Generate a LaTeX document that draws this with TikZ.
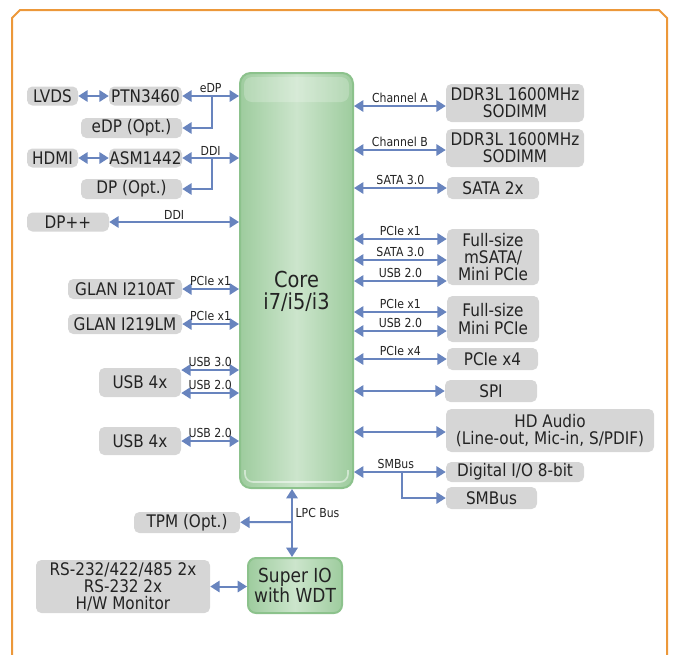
\documentclass[tikz,border=0pt]{standalone}
\usepackage{fontspec}
\setmainfont{DejaVu Sans}[FakeStretch=0.88]
\usetikzlibrary{arrows.meta}
\definecolor{framebar}{RGB}{236,152,58}
\definecolor{boxgrey}{RGB}{214,214,214}
\definecolor{textgrey}{RGB}{35,35,35}
\definecolor{linkblue}{RGB}{104,132,190}
\definecolor{chipgreen}{RGB}{158,204,158}
\definecolor{chiplight}{RGB}{204,229,204}
\definecolor{chipedge}{RGB}{140,194,140}

\tikzset{
  part/.style={draw=none, fill=boxgrey, rounded corners=4pt, inner sep=0pt, align=center,
               text=textgrey, font=\fontsize{13}{13}\selectfont},
  boxsize/.style 2 args={minimum width=#1*0.75pt, minimum height=#2*0.75pt},
  chip/.style={draw=chipedge, line width=1.5pt, left color=chipgreen, right color=chipgreen,
               middle color=chiplight, inner sep=0pt, align=center, text=textgrey},
  link/.style={draw=linkblue, line width=1.5pt,
               {Triangle[length=7pt,width=8.5pt]}-{Triangle[length=7pt,width=8.5pt]}},
  linkto/.style={draw=linkblue, line width=1.5pt, -{Triangle[length=7pt,width=8.5pt]}},
  bus/.style={font=\fontsize{9.3}{10}\selectfont, text=textgrey, inner sep=1pt, above=0.5pt}
}

\begin{document}
\begin{tikzpicture}[x=0.75pt, y=-0.75pt]
            \useasboundingbox (0,0) rectangle (673,654);
            \draw[framebar, line width=1.5pt] (12,670) -- (12,18) -- (20,10) -- (659,10) -- (667,18) -- (667,670);

            \node[chip, rounded corners=8pt, boxsize={113}{415}] (core) at (296.5,280.5) {};
            \fill[white, opacity=.22, rounded corners=6pt] (244,77) rectangle (349,102);
            \draw[white, opacity=.5, line width=1.2pt, rounded corners=6pt] (245,470) -- (245,482) -- (348,482) -- (348,470);
            \node[text=textgrey, align=center, font=\fontsize{16.5}{16.5}\selectfont] (corelabel) at (296.5,291) {Core\\i7/i5/i3};

            \node[part, boxsize={51}{19}] (lvds) at (52.5,96) {LVDS};
            \node[part, boxsize={73}{19}] (ptn) at (145.5,96) {PTN3460};
            \node[part, boxsize={101}{20}] (edpopt) at (131.5,128) {eDP (Opt.)};
            \node[part, boxsize={51}{19}] (hdmi) at (52.5,158) {HDMI};
            \node[part, boxsize={73}{19}] (asm) at (145.5,158) {ASM1442};
            \node[part, boxsize={101}{20}] (dpopt) at (131.5,189) {DP (Opt.)};
            \node[part, boxsize={82}{19}] (dpplus) at (68,222) {DP++};
            \node[part, boxsize={114}{20}] (glana) at (125,289) {GLAN I210AT};
            \node[part, boxsize={114}{20}] (glanb) at (125,324) {GLAN I219LM};
            \node[part, boxsize={82}{29}] (usba) at (140,382.5) {USB 4x};
            \node[part, boxsize={82}{28}] (usbb) at (140,441) {USB 4x};
            \node[part, boxsize={106}{21}] (tpm) at (187,522.5) {TPM (Opt.)};
            \node[part, boxsize={174}{53}, font=\fontsize{13}{12.75}\selectfont] (serial) at (123,586.5) {RS-232/422/485 2x\\RS-232 2x\\H/W Monitor};
            \node[chip, rounded corners=6pt, boxsize={94}{55}, font=\fontsize{14.5}{13.5}\selectfont] (sio) at (295,585.5) {Super IO\\with WDT};

            \node[part, boxsize={138}{38}] (ddra) at (515,103) {DDR3L 1600MHz\\SODIMM};
            \node[part, boxsize={138}{38}] (ddrb) at (515,148) {DDR3L 1600MHz\\SODIMM};
            \node[part, boxsize={92}{22}] (sata) at (493,188) {SATA 2x};
            \node[part, boxsize={92}{56}] (msata) at (493,257) {Full-size\\mSATA/\\Mini PCIe};
            \node[part, boxsize={92}{46}] (minipcie) at (493,319) {Full-size\\Mini PCIe};
            \node[part, boxsize={91}{22}] (pciefour) at (492.5,359) {PCIe x4};
            \node[part, boxsize={92}{22}] (spi) at (491,391) {SPI};
            \node[part, boxsize={208}{43}] (audio) at (550,430.5) {HD Audio\\(Line-out, Mic-in, S/PDIF)};
            \node[part, boxsize={138}{20}] (dio) at (515,472) {Digital I/O 8-bit};
            \node[part, boxsize={91}{22}] (smbus) at (491.5,498) {SMBus};

            \draw[link] (lvds) -- (ptn);
            \draw[link] (ptn) -- (ptn -| core.west) node[bus, midway] {eDP};
            \coordinate (edpsplit) at (212,96);
            \draw[linkto] (edpsplit) |- (edpopt);
            \draw[link] (hdmi) -- (asm);
            \draw[link] (asm) -- (asm -| core.west) node[bus, midway] {DDI};
            \coordinate (ddisplit) at (212,158);
            \draw[linkto] (ddisplit) |- (dpopt);
            \draw[link] (dpplus) -- (dpplus -| core.west) node[bus, midway] {DDI};
            \draw[link] (glana) -- (glana -| core.west) node[bus, midway] {PCIe x1};
            \draw[link] (glanb) -- (glanb -| core.west) node[bus, midway] {PCIe x1};
            \draw[link] (usba.east |- 0,370) -- (core.west |- 0,370) node[bus, midway] {USB 3.0};
            \draw[link] (usba.east |- 0,393) -- (core.west |- 0,393) node[bus, midway] {USB 2.0};
            \draw[link] (usbb) -- (usbb -| core.west) node[bus, midway] {USB 2.0};

            \draw[link] (core.east |- 0,106) -- (ddra.west |- 0,106) node[bus, midway] {Channel A};
            \draw[link] (core.east |- 0,150) -- (ddrb.west |- 0,150) node[bus, midway] {Channel B};
            \draw[link] (core.east |- sata) -- (sata) node[bus, midway] {SATA 3.0};
            \draw[link] (core.east |- 0,239) -- (msata.west |- 0,239) node[bus, midway] {PCIe x1};
            \draw[link] (core.east |- 0,260) -- (msata.west |- 0,260) node[bus, midway] {SATA 3.0};
            \draw[link] (core.east |- 0,281) -- (msata.west |- 0,281) node[bus, midway] {USB 2.0};
            \draw[link] (core.east |- 0,312) -- (minipcie.west |- 0,312) node[bus, midway] {PCIe x1};
            \draw[link] (core.east |- 0,331) -- (minipcie.west |- 0,331) node[bus, midway] {USB 2.0};
            \draw[link] (core.east |- pciefour) -- (pciefour) node[bus, midway] {PCIe x4};
            \draw[link] (core.east |- spi) -- (spi);
            \draw[link] (core.east |- 0,432) -- (audio.west |- 0,432);
            \draw[link] (core.east |- dio) -- (dio) node[bus, midway, xshift=-3pt] {SMBus};
            \coordinate (smsplit) at (402,472);
            \draw[linkto] (smsplit) |- (smbus);

            \coordinate (lpc) at (292,522);
            \draw[link] (core.south -| lpc) -- (sio.north -| lpc);
            \draw[linkto] (lpc) -- (tpm);
            \node[right, inner sep=1pt, text=textgrey, font=\fontsize{9.3}{10}\selectfont] (lpclabel) at (294,513) {LPC Bus};
            \draw[link] (serial) -- (serial -| sio.west);
        \end{tikzpicture}
\end{document}
